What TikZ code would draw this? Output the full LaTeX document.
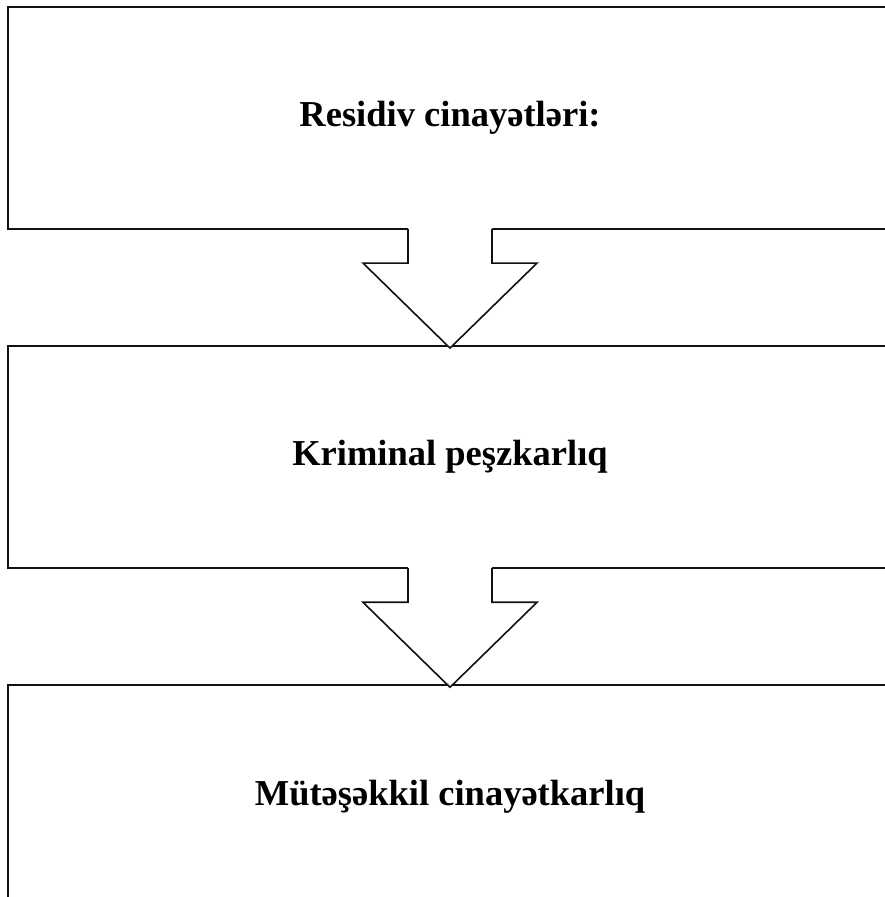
\documentclass[tikz,border=0pt]{standalone}
\usepackage{fontspec}
\setmainfont{Liberation Serif}
\usetikzlibrary{positioning,calc}
\definecolor{edge}{HTML}{111111}
\tikzset{
  stage/.style={draw=edge,line width=2.2pt,fill=white,minimum width=884pt,
    minimum height=222pt,inner sep=0pt,align=center,
    font=\fontsize{36.5}{42}\selectfont\bfseries},
  blockarrow/.style={draw=edge,line width=1.6pt,line join=miter},
  arrowfill/.style={fill=white}
}

\begin{document}
\begin{tikzpicture}[x=1pt,y=1pt,node distance=115pt]
  \useasboundingbox (0,0) rectangle (885,897);
  \clip (0,0) rectangle (885,897);
  \node[stage] (res) at (450,779) {Residiv cinayətləri:};
  \node[stage,below=of res] (krim) {Kriminal peşzkarlıq};
  \node[stage,below=of krim] (mut) {Mütəşəkkil cinayətkarlıq};
  % block arrows between the stages
  \foreach \src/\dst in {res/krim,krim/mut}{
    \fill[arrowfill] ($(\src.south)+(-42,2.5)$) -- ++(0,-35.5) -- ++(-45,0)
      -- ($(\dst.north)+(0,-3)$) -- ($(\src.south)+(87,-33)$) -- ++(-45,0)
      -- ++(0,35.5) -- cycle;
    \draw[blockarrow] ($(\src.south)+(-42,1.1)$) -- ++(0,-34.1) -- ++(-45,0)
      -- ($(\dst.north)+(0,-3)$) -- ($(\src.south)+(87,-33)$) -- ++(-45,0)
      -- ++(0,34.1);
  }
\end{tikzpicture}
\end{document}
